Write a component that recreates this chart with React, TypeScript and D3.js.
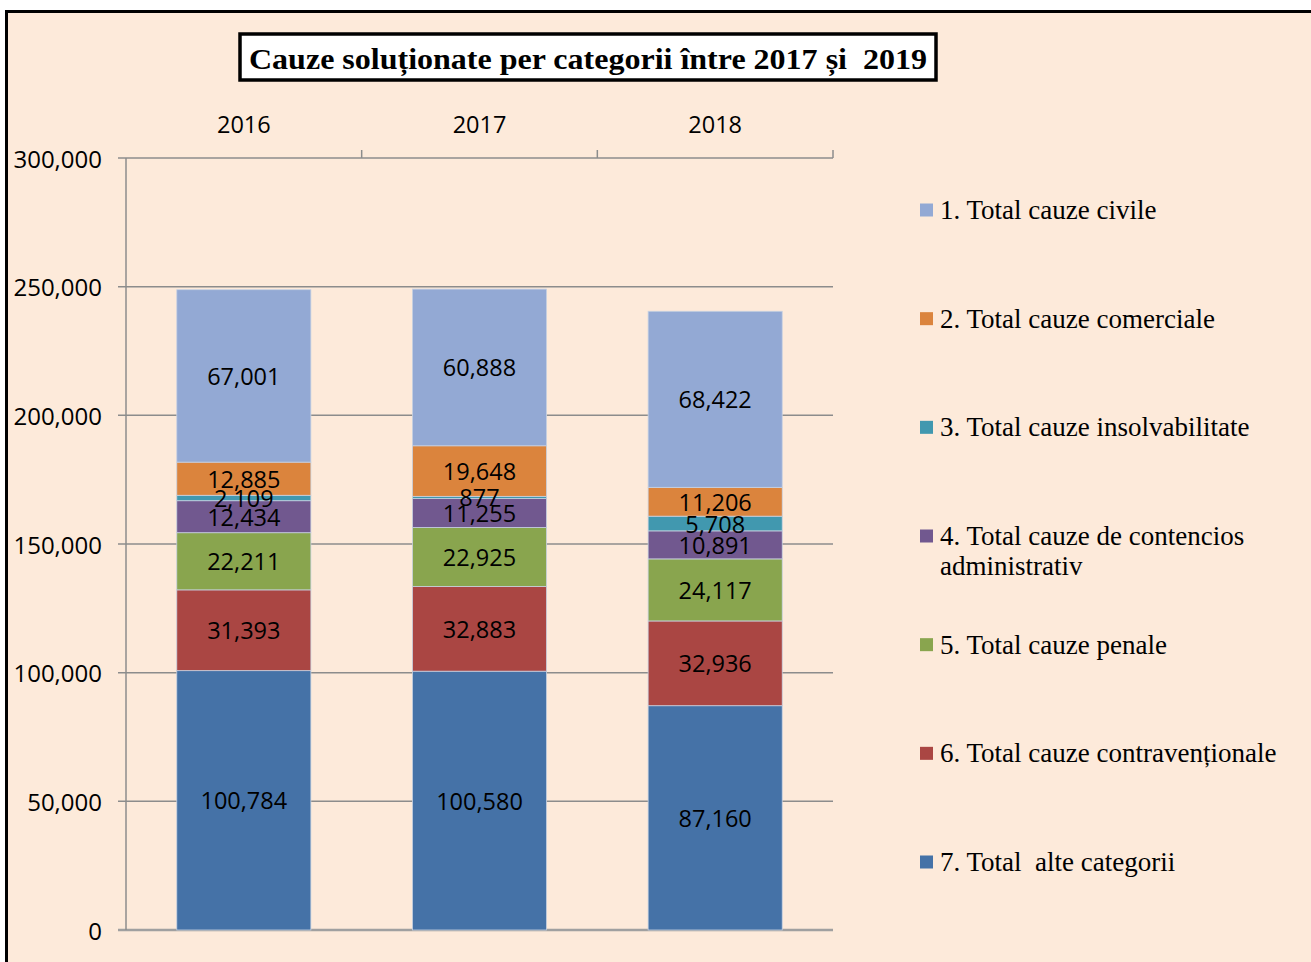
import React from 'react';
import * as d3 from 'd3';

// ani (categorii pe axa de sus)
const years = ['2016', '2017', '2018'];

// valori pe serii, de jos in sus in stiva
const alteCategorii = [100784, 100580, 87160];
const contraventionale = [31393, 32883, 32936];
const penale = [22211, 22925, 24117];
const contencios = [12434, 11255, 10891];
const insolvabilitate = [2109, 877, 5708];
const comerciale = [12885, 19648, 11206];
const civile = [67001, 60888, 68422];

const yTicks = [0, 50000, 100000, 150000, 200000, 250000, 300000];

const seriesNames = [
  '7. Total  alte categorii',
  '6. Total cauze contravenționale',
  '5. Total cauze penale',
  '4. Total cauze de contencios administrativ',
  '3. Total cauze insolvabilitate',
  '2. Total cauze comerciale',
  '1. Total cauze civile',
];
const seriesValues = [alteCategorii, contraventionale, penale, contencios, insolvabilitate, comerciale, civile];
const seriesColors = ['#4572A7', '#AA4643', '#89A54E', '#71588F', '#4198AF', '#DB843D', '#93A9D4'];

const W = 1311;
const H = 962;

export default function App() {
  const keys = seriesNames.map((_, i) => 's' + i);
  const rows = years.map((y, j) => {
    const r: any = { year: y };
    keys.forEach((k, i) => (r[k] = seriesValues[i][j]));
    return r;
  });
  const stacked = d3.stack().keys(keys)(rows);

  const x = d3.scaleBand().domain(years).range([126, 833]).paddingInner(0.431).paddingOuter(0.2155);
  const y = d3.scaleLinear().domain([0, 300000]).range([930, 158]);
  const fmt = d3.format(',');
  const step = x.step();

  // legenda: de sus in jos (1..7)
  const legendOrder = d3.range(seriesNames.length).reverse();
  const legendY = d3.scalePoint().domain(legendOrder.map(String)).range([210, 862]);

  const labelFont = "'Open Sans', sans-serif";
  const serif = "'Liberation Serif', 'Times New Roman', serif";
  const pre = { whiteSpace: 'pre' as const };

  return (
    <div style={{ position: 'fixed', left: 0, top: 0 }}>
      <svg width={W} height={H} style={{ display: 'block' }}>
        <rect x={0} y={0} width={W} height={H} fill="#ffffff" />
        <rect x={5} y={10} width={W} height={H} fill="#FDEADA" />
        <line x1={5} y1={11.5} x2={W} y2={11.5} stroke="#000" strokeWidth={3} />
        <line x1={6.5} y1={10} x2={6.5} y2={H} stroke="#000" strokeWidth={3} />

        {/* titlu */}
        <rect x={240} y={34} width={696} height={46} fill="#ffffff" stroke="#000" strokeWidth={3.5} />
        <text x={588} y={69} textAnchor="middle" fontFamily={serif} fontWeight="bold" fontSize={30} style={pre}
          textLength={678} lengthAdjust="spacingAndGlyphs" fill="#000">
          Cauze soluționate per categorii între 2017 și  2019
        </text>

        {/* grila */}
        {yTicks.map(t => (
          <g key={t}>
            <line x1={118} x2={833} y1={y(t)} y2={y(t)} stroke={t === 0 ? '#a0a0a0' : '#8c8c8c'} strokeWidth={t === 0 ? 2.5 : 1.5} />
            <text x={102} y={y(t)} textAnchor="end" dominantBaseline="central" fontFamily={labelFont} fontSize={24} fill="#000">
              {fmt(t)}
            </text>
          </g>
        ))}
        <line x1={126} x2={126} y1={158} y2={930} stroke="#8c8c8c" strokeWidth={1.5} />
        {years.map((yr, i) => (
          <line key={'tk' + yr} x1={126 + step * (i + 1)} x2={126 + step * (i + 1)} y1={150} y2={158} stroke="#8c8c8c" strokeWidth={1.5} />
        ))}
        {years.map(yr => (
          <text key={'yl' + yr} x={(x(yr) as number) + x.bandwidth() / 2} y={124} textAnchor="middle" dominantBaseline="central"
            fontFamily={labelFont} fontSize={23.5} fill="#000">{yr}</text>
        ))}

        {/* bare stivuite */}
        {stacked.map((s, i) => (
          <g key={s.key}>
            {s.map((d, j) => (
              <rect key={j} x={x(years[j])} y={y(d[1])} width={x.bandwidth()} height={y(d[0]) - y(d[1])}
                fill={seriesColors[i]} stroke="#c8d2e2" strokeWidth={0.8} />
            ))}
          </g>
        ))}
        {stacked.map((s, i) => (
          <g key={'lbl' + s.key}>
            {s.map((d, j) => (
              <text key={j} x={(x(years[j]) as number) + x.bandwidth() / 2} y={(y(d[0]) + y(d[1])) / 2}
                textAnchor="middle" dominantBaseline="central" fontFamily={labelFont} fontSize={23.5} fill="#000">
                {fmt(seriesValues[i][j])}
              </text>
            ))}
          </g>
        ))}

        {/* legenda */}
        {legendOrder.map(i => {
          const cy = legendY(String(i)) as number;
          const name = seriesNames[i];
          const lines = i === 3 ? ['4. Total cauze de contencios', 'administrativ'] : [name];
          return (
            <g key={'lg' + i}>
              <rect x={920} y={cy - 6.5} width={13} height={13} fill={seriesColors[i]} />
              {lines.map((ln, k) => (
                <text key={k} x={940} y={cy + k * 30} dominantBaseline="central" fontFamily={serif} fontSize={27} fill="#000" style={pre}>
                  {ln}
                </text>
              ))}
            </g>
          );
        })}
      </svg>
    </div>
  );
}
